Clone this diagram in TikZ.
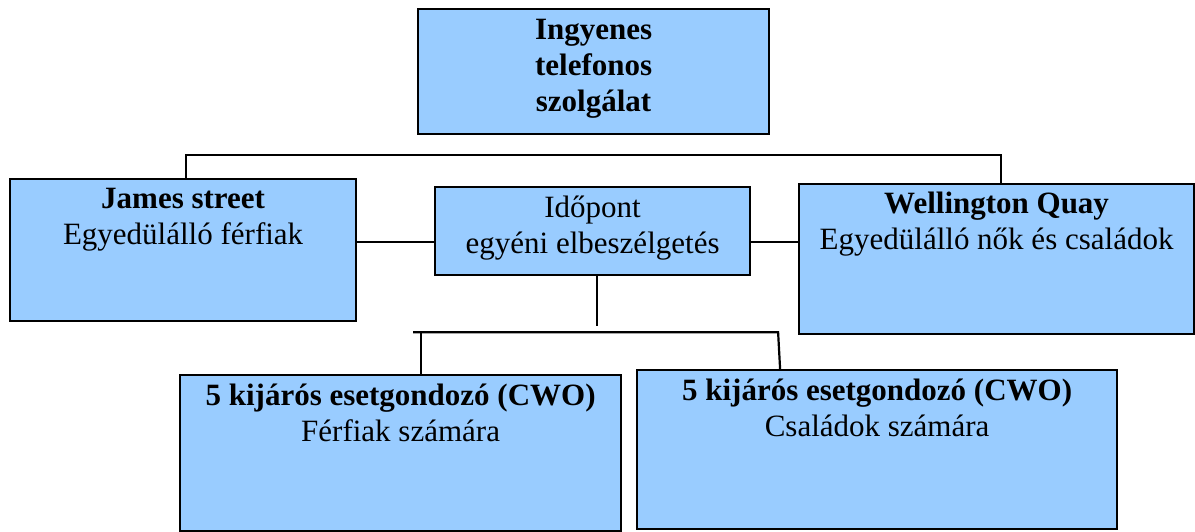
\documentclass[tikz,border=0pt]{standalone}
\usepackage{fontspec}
\setmainfont{Liberation Serif}
\usepackage{tikz}
\usetikzlibrary{shapes,calc}
\definecolor{boxblue}{HTML}{99CCFF}

\begin{document}
\begin{tikzpicture}[x=1pt,y=-1pt]
		\tikzstyle{unit}=[draw,rectangle,fill=boxblue,line width=2.2pt,text centered,align=center,inner xsep=0pt,inner ysep=0pt,anchor=north west,font=\fontsize{31}{36}\selectfont]
		\tikzstyle{link}=[line width=2.2pt]
		
		\useasboundingbox (0,0) rectangle (1195,532);
		
		\node[unit,minimum width=351pt,text height=102pt,text depth=23pt] (hotline) at (417,8) {\textbf{Ingyenes}\\\textbf{telefonos}\\\textbf{szolg\'alat}};
		
		\node[unit,minimum width=346pt,text height=65pt,text depth=77pt] (james) at (9,178) {\textbf{James street}\\Egyed\"ul\'all\'o f\'erfiak};
		\node[unit,minimum width=315pt,text height=66pt,text depth=22pt] (idopont) at (434,186) {Id\H{o}pont\\egy\'eni elbesz\'elget\'es};
		\node[unit,minimum width=395pt,text height=65pt,text depth=85pt] (wellington) at (798,183) {\textbf{Wellington Quay}\\Egyed\"ul\'all\'o n\H{o}k \'es csal\'adok};
		
		\node[unit,minimum width=441pt,text height=66pt,text depth=90pt] (men) at (179,374) {\textbf{5 kij\'ar\'os esetgondoz\'o (CWO)}\\F\'erfiak sz\'am\'ara};
		\node[unit,minimum width=480pt,text height=66pt,text depth=93pt] (families) at (636,369) {\textbf{5 kij\'ar\'os esetgondoz\'o (CWO)}\\Csal\'adok sz\'am\'ara};
		
		\coordinate (bus) at ([yshift=-20pt]hotline.south);
		\draw[link] ([xshift=3pt]james.north) |- (bus) -| ([xshift=4pt]wellington.north);
		
		\coordinate (mid) at ([yshift=-11pt]idopont.center);
		\draw[link] (james.east |- mid) -- (idopont.west |- mid);
		\draw[link] (idopont.east |- mid) -- (wellington.west |- mid);
		
		\coordinate (drop) at ([xshift=4.5pt,yshift=-50pt]idopont.south);
		\draw[link] ([xshift=4.5pt]idopont.south) -- (drop);
		
		\coordinate (bus2) at ([yshift=-56pt]idopont.south);
		\coordinate (lv) at ([xshift=20.5pt]men.north);
		\coordinate (rv) at ([xshift=-97pt]families.north);
		\draw[link] ($(lv |- bus2)+(-8,0)$) -- ($(rv |- bus2)+(-2,0)$) -- (rv);
		\draw[link] (lv |- bus2) -- (lv);
		
		\end{tikzpicture}
\end{document}
